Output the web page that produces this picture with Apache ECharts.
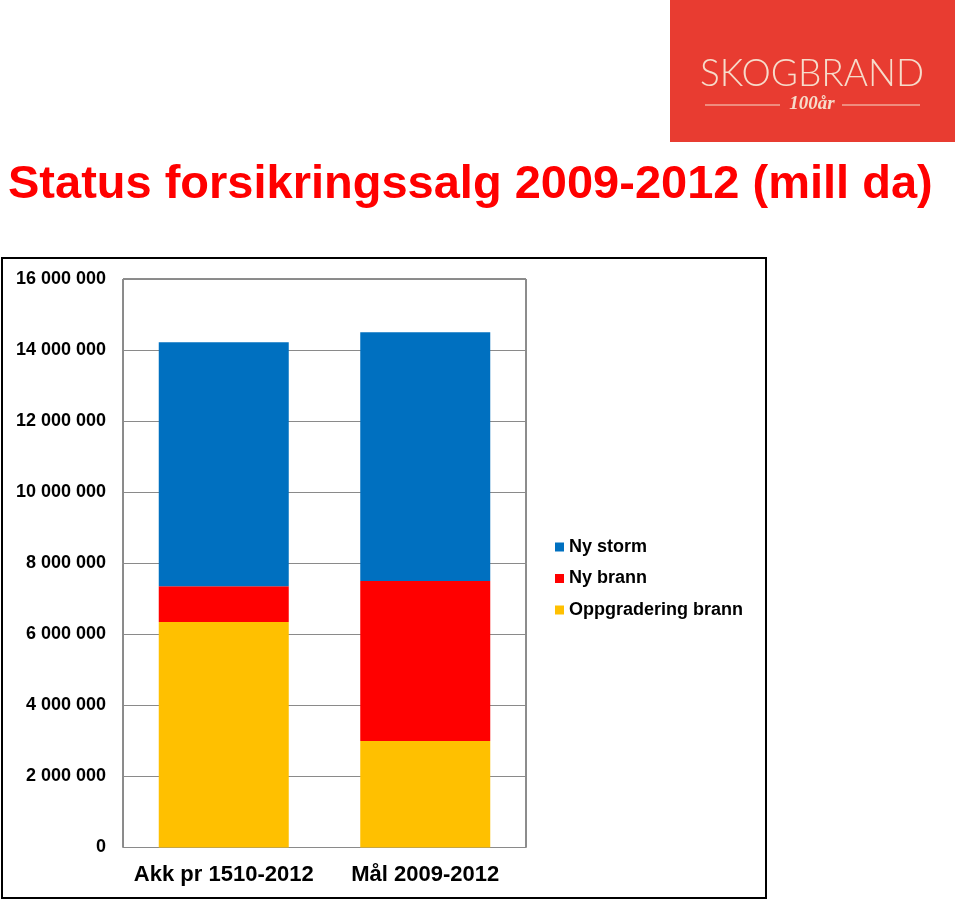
<!DOCTYPE html>
<html>
<head>
<meta charset="utf-8">
<script src="https://cdn.jsdelivr.net/npm/echarts@6/dist/echarts.min.js"></script>
<style>
html,body{margin:0;padding:0;background:#fff;}
#chart{width:960px;height:899px;}
</style>
</head>
<body>
<div id="chart"></div>
<script>
// Data
var categories = ['Akk pr 1510-2012', 'Mål 2009-2012'];
var oppgraderingBrann = [6350000, 3000000];
var nyBrann = [1000000, 4500000];
var nyStorm = [6870000, 7000000];
var legendNames = ['Ny storm', 'Ny brann', 'Oppgradering brann'];
var titleText = 'Status forsikringssalg 2009-2012 (mill da)';
var yMin = 0, yMax = 16000000, yStep = 2000000;

var chart = echarts.init(document.getElementById('chart'), null, {renderer: 'canvas'});
function fmt(v) { return String(v).replace(/\B(?=(\d{3})+(?!\d))/g, ' '); }

var option = {
  backgroundColor: '#ffffff',
  animation: false,
  textStyle: {fontFamily: 'Liberation Sans, Arial, sans-serif'},
  grid: {
    left: 123, top: 279, right: 434, bottom: 51.5,
    show: true, borderColor: '#1a1a1a', borderWidth: 1, backgroundColor: 'transparent'
  },
  legend: {
    data: legendNames,
    orient: 'vertical',
    left: 550, top: 533,
    itemWidth: 9, itemHeight: 9, itemGap: 13.5,
    icon: 'rect',
    textStyle: {fontSize: 18, fontWeight: 'bold', color: '#000', fontFamily: 'Liberation Sans, Arial, sans-serif'}
  },
  xAxis: {
    type: 'category',
    data: categories,
    axisLine: {lineStyle: {color: '#8a8a8a', width: 1}},
    axisTick: {show: false},
    axisLabel: {interval: 0, hideOverlap: false, fontSize: 22, fontWeight: 'bold', color: '#000', margin: 16, fontFamily: 'Liberation Sans, Arial, sans-serif'}
  },
  yAxis: {
    type: 'value',
    min: yMin, max: yMax, interval: yStep,
    axisLine: {show: true, lineStyle: {color: '#8a8a8a', width: 1}},
    axisTick: {show: false},
    splitLine: {lineStyle: {color: '#8a8a8a', width: 1}},
    axisLabel: {fontSize: 18, fontWeight: 'bold', color: '#000', margin: 17, formatter: fmt, fontFamily: 'Liberation Sans, Arial, sans-serif'}
  },
  series: [
    {name: 'Oppgradering brann', type: 'bar', stack: 's', data: oppgraderingBrann, barWidth: 130, itemStyle: {color: '#FFC000'}},
    {name: 'Ny brann', type: 'bar', stack: 's', data: nyBrann, barWidth: 130, itemStyle: {color: '#FF0000'}},
    {name: 'Ny storm', type: 'bar', stack: 's', data: nyStorm, barWidth: 130, itemStyle: {color: '#0070C0'}}
  ],
  graphic: [
    {type: 'rect', shape: {x: 2, y: 258, width: 764, height: 640}, style: {fill: 'none', stroke: '#000', lineWidth: 2}, z: 100},
    {type: 'text', x: 8, y: 185, style: {text: titleText, font: 'bold 47px "Liberation Sans", Arial, sans-serif', fill: '#FF0000', textVerticalAlign: 'middle'}, z: 100},
    {type: 'rect', shape: {x: 670, y: 0, width: 285, height: 142}, style: {fill: '#E83C31'}, z: 100},
    {type: 'text', x: 812, y: 74, style: {text: 'SKOGBRAND', font: '300 37px Lato, "Open Sans", sans-serif', fill: '#F6DCCB', textAlign: 'center', textVerticalAlign: 'middle'}, z: 101},
    {type: 'text', x: 812, y: 104, style: {text: '100år', font: 'italic bold 19px "Liberation Serif", serif', fill: '#F6DCCB', textAlign: 'center', textVerticalAlign: 'middle'}, z: 101},
    {type: 'line', shape: {x1: 705, y1: 105, x2: 780, y2: 105}, style: {stroke: '#F6DCCB', lineWidth: 1}, z: 101},
    {type: 'line', shape: {x1: 842, y1: 105, x2: 920, y2: 105}, style: {stroke: '#F6DCCB', lineWidth: 1}, z: 101}
  ]
};
chart.setOption(option);
</script>
</body>
</html>
